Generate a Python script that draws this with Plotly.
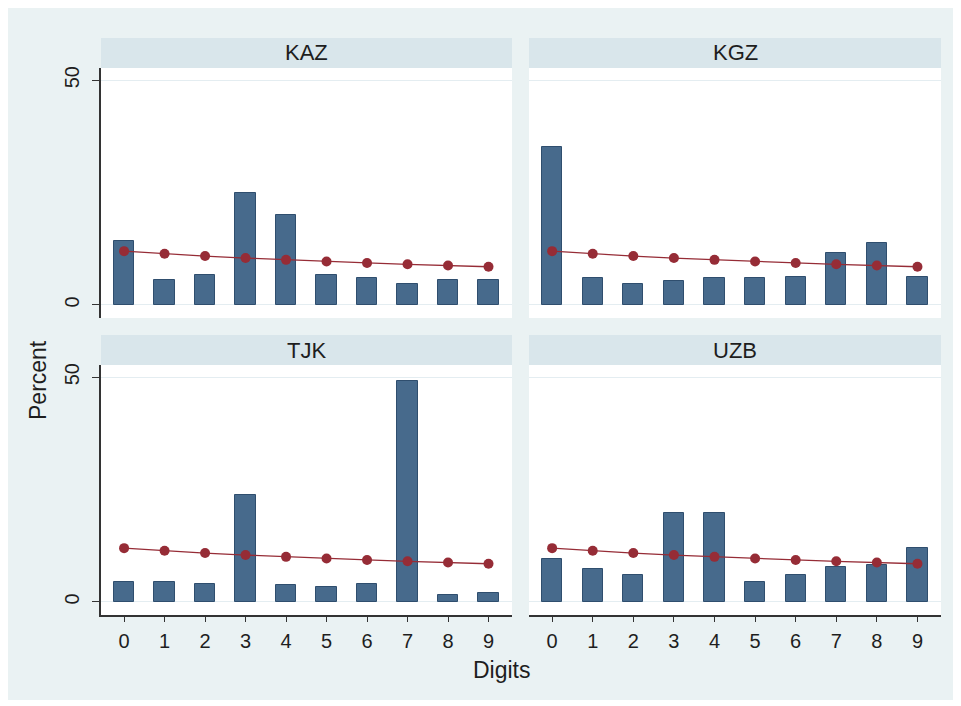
import plotly.graph_objects as go

digits = [0, 1, 2, 3, 4, 5, 6, 7, 8, 9]
countries = ["KAZ", "KGZ", "TJK", "UZB"]
kaz = [14.2, 5.6, 6.7, 25.0, 20.1, 6.7, 5.9, 4.7, 5.6, 5.6]
kgz = [35.2, 5.9, 4.7, 5.4, 5.9, 5.9, 6.3, 11.6, 13.7, 6.3]
tjk = [4.5, 4.5, 4.1, 23.9, 3.7, 3.4, 4.1, 49.2, 1.6, 2.0]
uzb = [9.5, 7.4, 6.1, 19.8, 19.8, 4.5, 6.1, 7.8, 8.2, 11.9]
benford = [11.97, 11.39, 10.88, 10.43, 10.03, 9.67, 9.34, 9.04, 8.76, 8.50]
series = [kaz, kgz, tjk, uzb]

W, H = 961, 706
OFF = 8  # page body offset
BG = "#eaf2f3"
STRIP = "#d9e6eb"
BAR = "#476a8c"
BAR_LINE = "#2f4e6e"
RED = "#962c36"
FONT = "Liberation Sans"
TXT = "#1e1e1e"

# panel pixel boxes (window pixels): (x0, x1, y0, y1)
panels = [
    (101, 512, 68, 318),
    (529, 941, 68, 318),
    (101, 512, 365, 615),
    (529, 941, 365, 615),
]

def fx(px):
    return (px - OFF) / W

def fy(py):
    return 1 - (py - OFF) / H

fig = go.Figure()
layout = dict(
    width=W, height=H,
    margin=dict(l=0, r=0, t=0, b=0),
    paper_bgcolor=BG,
    plot_bgcolor="white",
    showlegend=False,
    font=dict(family=FONT, color=TXT),
    bargap=0,
)
shapes = [
    dict(type="rect", xref="paper", yref="paper", x0=fx(955), x1=1.0, y0=0, y1=1,
         fillcolor="white", line=dict(width=0), layer="below"),
    dict(type="rect", xref="paper", yref="paper", x0=0, x1=1, y0=0, y1=fy(700),
         fillcolor="white", line=dict(width=0), layer="below"),
]
annotations = []

for i, (name, vals) in enumerate(zip(countries, series)):
    k = i + 1
    xa = "x" if k == 1 else f"x{k}"
    ya = "y" if k == 1 else f"y{k}"
    fig.add_trace(go.Bar(x=digits, y=vals, width=0.5, xaxis=xa, yaxis=ya,
                         marker=dict(color=BAR, line=dict(color=BAR_LINE, width=1))))
    fig.add_trace(go.Scatter(x=digits, y=benford, mode="lines+markers", xaxis=xa, yaxis=ya,
                             line=dict(color=RED, width=1.3),
                             marker=dict(color=RED, size=10)))
    x0, x1, y0, y1 = panels[i]
    bottom = i >= 2
    left = i % 2 == 0
    xkey = "xaxis" if k == 1 else f"xaxis{k}"
    ykey = "yaxis" if k == 1 else f"yaxis{k}"
    layout[xkey] = dict(
        domain=[fx(x0), fx(x1)], range=[-0.57, 9.58], anchor=ya,
        tickmode="array", tickvals=digits, ticktext=[str(d) for d in digits],
        showticklabels=bottom, ticks="outside" if bottom else "",
        ticklen=5, tickcolor="#333333", tickfont=dict(size=20, family=FONT, color=TXT),
        ticklabelstandoff=2,
        showline=bottom, linecolor="#333333", linewidth=1.5,
        showgrid=False, zeroline=False, automargin=False, fixedrange=True,
    )
    layout[ykey] = dict(
        domain=[fy(y1), fy(y0)], range=[-2.9, 52.7], anchor=xa,
        tickmode="array", tickvals=[0, 50], ticktext=["0", "50"],
        showticklabels=left, ticks="outside" if left else "",
        ticklen=7, tickcolor="#333333", tickangle=-90,
        tickfont=dict(size=20, family=FONT, color=TXT),
        ticklabelstandoff=5,
        showline=left, linecolor="#333333", linewidth=1.5,
        showgrid=True, gridcolor="#e4edf1", gridwidth=1,
        zeroline=False, automargin=False, fixedrange=True,
    )
    # strip header
    sy1 = y0
    sy0 = y0 - 30
    shapes.append(dict(type="rect", xref="paper", yref="paper",
                       x0=fx(x0), x1=fx(x1), y0=fy(sy1), y1=fy(sy0),
                       fillcolor=STRIP, line=dict(width=0), layer="below"))
    annotations.append(dict(xref="paper", yref="paper", x=fx((x0 + x1) / 2), y=fy((sy0 + sy1) / 2),
                            text=name, showarrow=False, xanchor="center", yanchor="middle",
                            font=dict(size=22, family=FONT, color=TXT)))

annotations.append(dict(xref="paper", yref="paper", x=fx(38), y=fy(380), text="Percent",
                        textangle=-90, showarrow=False, xanchor="center", yanchor="middle",
                        font=dict(size=23, family=FONT, color=TXT)))
annotations.append(dict(xref="paper", yref="paper", x=fx(502), y=fy(670), text="Digits",
                        showarrow=False, xanchor="center", yanchor="middle",
                        font=dict(size=23, family=FONT, color=TXT)))

layout["shapes"] = shapes
layout["annotations"] = annotations
fig.update_layout(**layout)
fig.write_html("out.html")
